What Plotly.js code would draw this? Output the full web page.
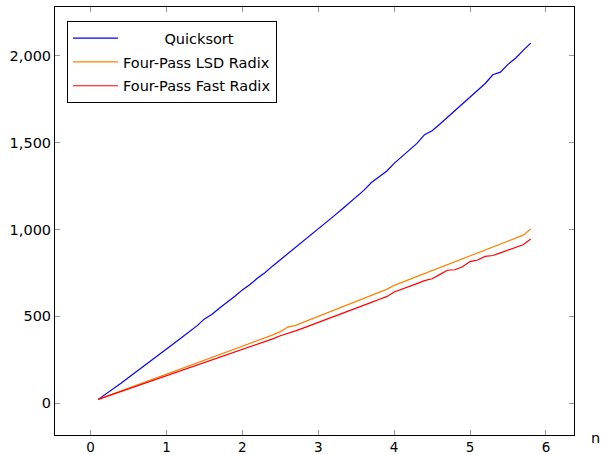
<!DOCTYPE html>
<html>
<head>
<meta charset="utf-8">
<script src="https://cdn.plot.ly/plotly-3.0.1.min.js"></script>
<style>html,body{margin:0;padding:0;background:#fff;}#chart{width:602px;height:455px;}</style>
</head>
<body>
<div id="chart"></div>
<script>
const nValues = [0.1,0.2,0.3,0.4,0.5,0.6,0.7,0.8,0.9,1.0,1.1,1.2,1.3,1.4,1.5,1.6,1.7,1.8,1.9,2.0,
  2.1,2.2,2.3,2.4,2.5,2.6,2.7,2.8,2.9,3.0,3.1,3.2,3.3,3.4,3.5,3.6,3.7,3.8,3.9,4.0,
  4.1,4.2,4.3,4.4,4.5,4.6,4.7,4.8,4.9,5.0,5.1,5.2,5.3,5.4,5.5,5.6,5.7,5.8];

const quicksort = [22,52,85,115,148,180,212,245,278,312,345,378,412,445,485,512,548,580,615,652,
  683,720,752,790,825,860,895,930,965,1000,1040,1075,1112,1150,1185,1225,1270,1302,1335,1380,
  1420,1458,1495,1545,1568,1605,1645,1685,1722,1760,1800,1840,1890,1905,1950,1985,2030,2072];

const lsdRadix = [22,38,54,70,86,101,117,133,149,165,181,197,213,229,245,261,277,293,310,327,
  343,360,376,393,412,438,448,465,483,500,517,534,551,568,585,603,620,638,655,678,
  695,710,728,746,762,780,797,815,832,849,867,884,901,918,935,952,967,1002];

const fastRadix = [22,37,52,67,82,97,112,128,143,158,173,188,203,218,232,247,262,277,293,308,
  323,338,354,370,388,400,416,432,448,464,481,497,514,530,547,563,580,597,613,640,
  655,670,688,705,716,740,765,768,785,815,824,845,850,865,880,895,912,945];

const seriesNames = ["\u00A0\u00A0\u00A0\u00A0\u00A0\u00A0\u00A0\u00A0\u00A0Quicksort", "Four-Pass LSD Radix", "Four-Pass Fast Radix"];
const seriesColors = ["#0000ff", "#ff8000", "#ff0000"];
const seriesData = [quicksort, lsdRadix, fastRadix];

const yTicks = [0, 500, 1000, 1500, 2000];
const xTicks = [0, 1, 2, 3, 4, 5, 6];

const traces = seriesData.map((ys, i) => ({
  x: nValues, y: ys, type: "scatter", mode: "lines",
  name: seriesNames[i], legendgroup: "g" + i,
  line: {color: seriesColors[i], width: 1.2}
}));

const font = {family: "DejaVu Sans, sans-serif", size: 14.5, color: "#000"};
const tickFont = {family: "DejaVu Sans, sans-serif", size: 13.5, color: "#000"};

const axisCommon = {
  showgrid: false, zeroline: false,
  showline: true, linecolor: "#000", linewidth: 1,
  mirror: "ticks", ticks: "inside", ticklen: 5, tickcolor: "#999", tickwidth: 1,
  tickfont: tickFont
};

const layout = {
  width: 602, height: 455,
  margin: {l: 55, r: 28, t: 7, b: 20},
  paper_bgcolor: "#fff", plot_bgcolor: "#fff",
  font: font,
  showlegend: true,
  legend: {
    x: 0.023, y: 0.967, xanchor: "left", yanchor: "top",
    bordercolor: "#000", borderwidth: 1, bgcolor: "#fff",
    font: font, itemwidth: 45, tracegroupgap: 2
  },
  xaxis: Object.assign({}, axisCommon, {
    range: [-0.47, 6.37], tickvals: xTicks, ticktext: xTicks.map(String)
  }),
  yaxis: Object.assign({}, axisCommon, {
    range: [-183, 2280], tickvals: yTicks, separatethousands: true, tickformat: ",d",
    tickfont: font
  }),
  annotations: [{
    text: "n", xref: "paper", yref: "paper", x: 1, y: 0,
    xanchor: "left", yanchor: "middle", xshift: 15, yshift: -3,
    showarrow: false, font: font
  }]
};

Plotly.newPlot("chart", traces, layout, {displayModeBar: false, staticPlot: true});
</script>
</body>
</html>
